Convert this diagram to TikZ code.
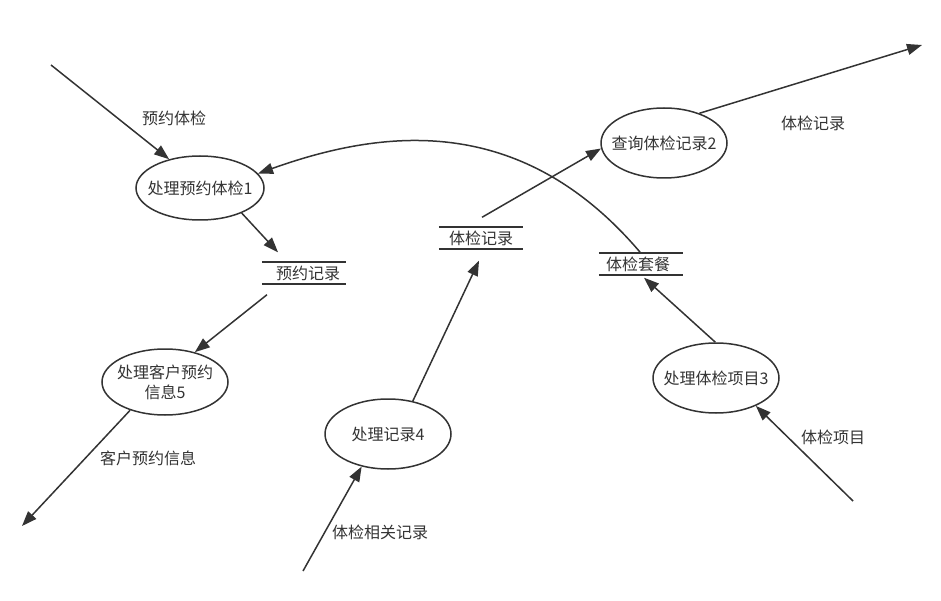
\documentclass[tikz,border=0pt]{standalone}
\usepackage{fontspec}
\newfontfamily\cjk{Noto Sans CJK SC}
\usetikzlibrary{shapes.geometric, arrows.meta, positioning}
\definecolor{linea}{HTML}{333333}

\begin{document}
\begin{tikzpicture}[
        x=1pt, y=-1pt,
        font=\cjk\fontsize{16}{20}\selectfont,
        text=linea,
        % Estilo para procesos
        proc/.style={
                ellipse,
                draw=linea,
                line width=1.5pt,
                minimum width=126pt,
                minimum height=68pt,
                inner xsep=-10pt,
                inner ysep=0pt,
                align=center
            },
        % Almacenes de datos
        storeline/.style={draw=linea, line width=1.8pt},
        store/.style={
                rectangle,
                minimum width=84pt,
                minimum height=21pt,
                inner sep=0pt,
                append after command={
                        (\tikzlastnode.north west) edge[storeline] (\tikzlastnode.north east)
                        (\tikzlastnode.south west) edge[storeline] (\tikzlastnode.south east)
                    }
            },
        % Flujos
        flow/.style={
                draw=linea,
                line width=1.5pt,
                -{Triangle[length=15pt, width=11pt]}
            }
    ]

    \useasboundingbox (0,0) rectangle (941,601);

    % PROCESOS
    \node[proc, minimum width=128pt, minimum height=64pt] (yuyue) at (200,188) {处理预约体检1};
    \node[proc, minimum height=70pt] (chaxun) at (664,143) {查询体检记录2};
    \node[proc, minimum height=70pt] (xiangmu) at (716,378) {处理体检项目3};
    \node[proc, minimum height=70pt] (jilu) at (388,434) {处理记录4};
    \node[proc, minimum height=66pt] (kehu) at (165,382) {处理客户预约\\信息5};

    % ALMACENES
    \node[store] (yyjl) at (304,273) {\hspace*{8pt}预约记录};
    \node[store] (tjjl) at (481,238) {体检记录};
    \node[store] (tjtc) at (641,264) {体检套餐\hspace*{6pt}};

    % Extremos libres
    \coordinate (inYuyue) at (51,65);
    \coordinate (outKehu) at (22,526);
    \coordinate (inJilu) at (303,571);
    \coordinate (outChaxun) at (922,45);
    \coordinate (inXiangmu) at (853,501);

    % FLUJOS
    \draw[flow] (inYuyue) -- (yuyue.137);
    \draw[flow] (yuyue.-31) -- ([xshift=-26pt, yshift=10pt]yyjl.north);
    \draw[flow] ([xshift=-37pt, yshift=-11pt]yyjl.south) -- (kehu.45);
    \draw[flow] (kehu.-141) -- (outKehu);
    \draw[flow] (inJilu) -- (jilu.-129);
    \draw[flow] (jilu.53) -- ([xshift=-2pt, yshift=-12pt]tjjl.south);
    \draw[flow] ([xshift=1pt, yshift=10pt]tjjl.north) -- (chaxun.185);
    \draw[flow] (chaxun.40) -- (outChaxun);
    \draw[flow] (inXiangmu) -- (xiangmu.-35);
    \draw[flow] (xiangmu.91) -- ([xshift=3pt, yshift=-3pt]tjtc.south);
    \draw[flow] (tjtc.north) .. controls (520,110) and (380,130) .. (yuyue.14);

    % Etiquetas
    \node (lbYuyue) at (174,118) {预约体检};
    \node (lbKehu) at (148,458) {客户预约信息};
    \node (lbJilu) at (380,532) {体检相关记录};
    \node (lbChaxun) at (813,123) {体检记录};
    \node (lbXiangmu) at (833,437) {体检项目};

\end{tikzpicture}
\end{document}
